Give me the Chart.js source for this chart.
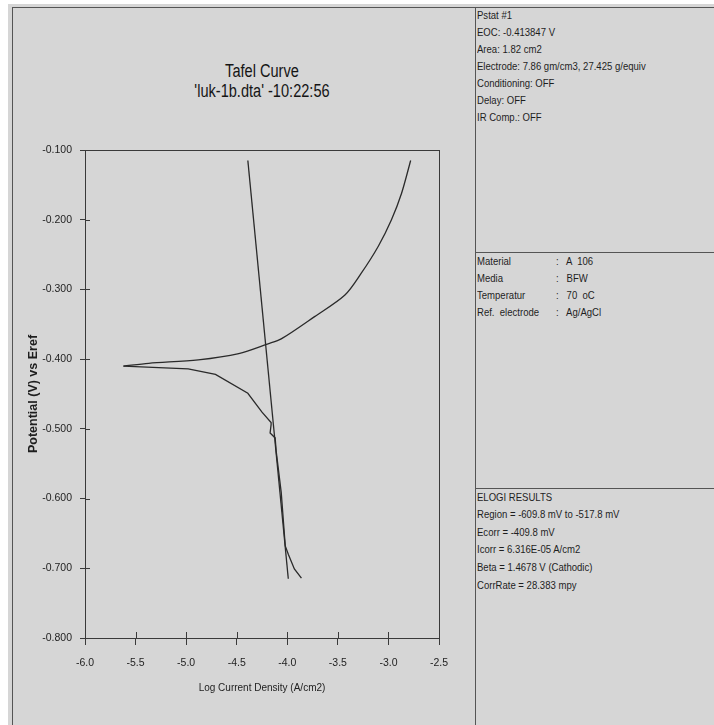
<!DOCTYPE html>
<html>
<head>
<meta charset="utf-8">
<script src="https://cdn.jsdelivr.net/npm/chart.js@4.4.1/dist/chart.umd.min.js"></script>
<style>
  html, body { margin: 0; padding: 0; background: #ffffff; }
  body { width: 714px; height: 725px; position: relative; overflow: hidden;
         font-family: "Liberation Sans", Arial, sans-serif; color: #1e1e1e; }
  #paper { position: absolute; left: 8px; top: 4px; width: 706px; height: 721px; background: #d6d6d6; }
  .ln { position: absolute; background: #555; }
  .t { position: absolute; font-size: 11.5px; line-height: 13px; white-space: pre;
       transform: scaleX(0.83); transform-origin: 0 50%; }
  #title { position: absolute; left: 85px; width: 354px; top: 61px; text-align: center;
           font-size: 18px; line-height: 20px; color: #151515; transform: scaleX(0.81); transform-origin: 50% 50%; }
  canvas { position: absolute; left: 0; top: 0; }
</style>
</head>
<body>
<div id="paper"></div>
<div class="ln" style="left:12px;top:7px;width:1px;height:718px;"></div>
<div class="ln" style="left:12px;top:7px;width:702px;height:1px;"></div>
<div class="ln" style="left:475px;top:7px;width:1px;height:718px;"></div>
<div class="ln" style="left:475px;top:252px;width:239px;height:1px;"></div>
<div class="ln" style="left:475px;top:488px;width:239px;height:1px;"></div>

<div id="title"></div>

<div id="info1"></div>
<div id="info2"></div>
<div id="info3"></div>

<canvas id="c" width="714" height="725"></canvas>

<script>
// ---- data ----
const anodicX = [-5.62, -5.37, -4.88, -4.48, -4.19, -4.06, -3.73, -3.43, -3.27, -3.10, -2.97, -2.87, -2.78];
const anodicY = [-0.410, -0.406, -0.401, -0.392, -0.378, -0.371, -0.339, -0.308, -0.277, -0.238, -0.200, -0.162, -0.115];

const cathodicX = [-5.62, -4.98, -4.71, -4.39, -4.25, -4.16, -4.16, -4.17, -4.12, -4.11, -4.06, -4.02, -3.99, -3.93, -3.86];
const cathodicY = [-0.410, -0.414, -0.422, -0.449, -0.476, -0.491, -0.494, -0.506, -0.513, -0.532, -0.591, -0.668, -0.680, -0.701, -0.714];

const tafelX = [-4.39, -3.99];
const tafelY = [-0.115, -0.715];

const xTicks = [-6.0, -5.5, -5.0, -4.5, -4.0, -3.5, -3.0, -2.5];
const yTicks = [-0.100, -0.200, -0.300, -0.400, -0.500, -0.600, -0.700, -0.800];

const chartTitle = ["Tafel Curve", "'luk-1b.dta' -10:22:56"];
const xTitle = "Log Current Density (A/cm2)";
const yTitle = "Potential (V) vs Eref";

const info1 = ["Pstat #1", "EOC: -0.413847 V", "Area: 1.82 cm2", "Electrode: 7.86 gm/cm3, 27.425 g/equiv",
               "Conditioning: OFF", "Delay: OFF", "IR Comp.: OFF"];
const info2Keys = ["Material", "Media", "Temperatur", "Ref.  electrode"];
const info2Vals = ["A  106", "BFW", "70  oC", "Ag/AgCl"];
const info3 = ["ELOGI RESULTS", "Region = -609.8 mV to -517.8 mV", "Ecorr = -409.8 mV",
               "Icorr = 6.316E-05 A/cm2", "Beta = 1.4678 V (Cathodic)", "CorrRate = 28.383 mpy"];

// ---- text panels ----
document.getElementById('title').innerHTML = chartTitle.join('<br>');
function addLines(id, lines, x, y0, dy) {
  const host = document.getElementById(id);
  lines.forEach((s, i) => {
    const d = document.createElement('div');
    d.className = 't';
    d.style.left = x + 'px';
    d.style.top = (y0 + i * dy - 6.5) + 'px';
    d.textContent = s;
    host.appendChild(d);
  });
}
addLines('info1', info1, 477, 15, 17);
addLines('info2', info2Keys, 477, 261, 17.3);
addLines('info2', info2Vals.map(v => ':   ' + v), 556, 261, 17.3);
addLines('info3', info3, 477, 497, 17.6);

// ---- chart ----
const pts = (xs, ys) => xs.map((x, i) => ({x: x, y: ys[i]}));
const lineColor = '#2a2a2a';
const frame = {
  id: 'frame',
  afterDraw(chart) {
    const {ctx, chartArea: a, scales} = chart;
    ctx.save();
    ctx.strokeStyle = '#3a3a3a';
    ctx.lineWidth = 1;
    ctx.strokeRect(Math.round(a.left) + 0.5, Math.round(a.top) + 0.5,
                   Math.round(a.right - a.left), Math.round(a.bottom - a.top));
    ctx.beginPath();
    xTicks.forEach(v => {
      const px = Math.round(scales.x.getPixelForValue(v)) + 0.5;
      ctx.moveTo(px, a.bottom); ctx.lineTo(px, a.bottom - 6);
    });
    yTicks.forEach(v => {
      const py = Math.round(scales.y.getPixelForValue(v)) + 0.5;
      ctx.moveTo(a.left, py); ctx.lineTo(a.left + 5, py);
    });
    ctx.stroke();
    ctx.restore();
  }
};

const fam = '"Liberation Sans", Arial, sans-serif';
const tickFont = {family: fam, size: 10.5};
new Chart(document.getElementById('c'), {
  type: 'scatter',
  data: {
    datasets: [
      {data: pts(anodicX, anodicY), showLine: true, borderColor: lineColor, borderWidth: 1.3, pointRadius: 0, tension: 0.3},
      {data: pts(cathodicX, cathodicY), showLine: true, borderColor: lineColor, borderWidth: 1.3, pointRadius: 0, tension: 0},
      {data: pts(tafelX, tafelY), showLine: true, borderColor: lineColor, borderWidth: 1.3, pointRadius: 0}
    ]
  },
  options: {
    responsive: false,
    animation: false,
    layout: {padding: {left: 0, right: 275, top: 150, bottom: 0}},
    plugins: {legend: {display: false}, tooltip: {enabled: false}, title: {display: false}},
    scales: {
      x: {
        type: 'linear', min: -6, max: -2.5,
        afterBuildTicks: s => { s.ticks = xTicks.map(v => ({value: v})); },
        afterFit: s => { s.height = 87; },
        ticks: {font: tickFont, color: '#1e1e1e', padding: 12, maxRotation: 0, callback: v => v.toFixed(1)},
        grid: {drawOnChartArea: false, tickLength: 7, color: '#3a3a3a'},
        border: {display: false},
        title: {display: true, text: xTitle, font: {family: fam, size: 10}, color: '#1e1e1e', padding: {top: 0, bottom: 31}}
      },
      y: {
        type: 'linear', min: -0.8, max: -0.1,
        afterBuildTicks: s => { s.ticks = yTicks.map(v => ({value: v})); },
        afterFit: s => { s.width = 85; },
        ticks: {font: tickFont, color: '#1e1e1e', padding: 8, callback: v => v.toFixed(3)},
        grid: {drawOnChartArea: false, tickLength: 5, color: '#3a3a3a'},
        border: {display: false},
        title: {display: true, text: yTitle, font: {family: fam, size: 12.5, weight: 'bold'}, color: '#1e1e1e', padding: {top: 26, bottom: 0}}
      }
    }
  },
  plugins: [frame]
});
</script>
</body>
</html>
